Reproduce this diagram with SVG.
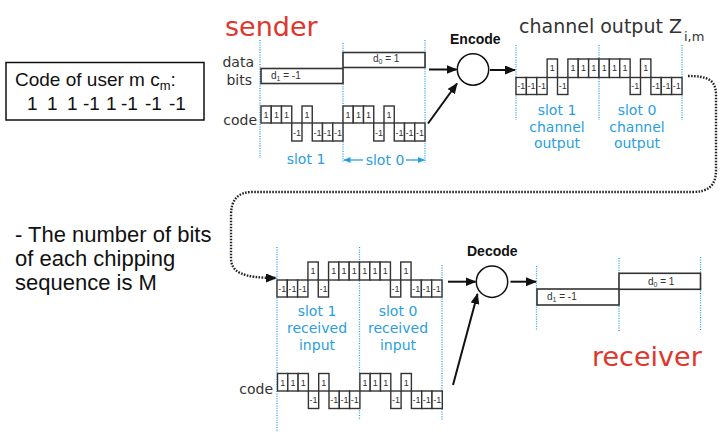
<svg xmlns="http://www.w3.org/2000/svg" width="721" height="439" viewBox="0 0 721 439">
<defs>
<style>
.bg{fill:#fff}
.chip{fill:#fff;stroke:#333;stroke-width:1.4}
.bar{fill:#fff;stroke:#333;stroke-width:1.6}
.cl{font-family:"Liberation Sans",Arial,sans-serif;font-size:9px;fill:#333;text-anchor:middle}
.dl{font-family:"Liberation Sans",Arial,sans-serif;font-size:10px;fill:#333}
.dot{stroke:#2a9ee0;stroke-width:1.3;stroke-dasharray:1 1.4;fill:none}
.blue{font-family:"DejaVu Sans",Verdana,sans-serif;font-size:14px;fill:#2a9ee0;text-anchor:middle}
.gray{font-family:"DejaVu Sans",Verdana,sans-serif;font-size:14px;fill:#333}
.title{font-family:"DejaVu Sans",Verdana,sans-serif;font-size:19px;fill:#333}
.sub{font-size:13px}
.big{font-family:"DejaVu Sans",Verdana,sans-serif;font-size:27px;fill:#e0352b}
.hand{font-family:"Liberation Sans",Arial,sans-serif;fill:#111}
.op{font-family:"Liberation Sans",Arial,sans-serif;font-size:14px;font-weight:bold;fill:#111}
.circ{fill:#fff;stroke:#111;stroke-width:1.5}
.arr{stroke:#111;stroke-width:2;fill:none;marker-end:url(#ah)}
.barr{stroke:#2a9ee0;stroke-width:1.3;fill:none;marker-end:url(#bh)}
.dash{stroke:#222;stroke-width:2.4;stroke-dasharray:1.6 1.4;fill:none;marker-end:url(#ah)}
</style>
<marker id="ah" markerUnits="userSpaceOnUse" markerWidth="11" markerHeight="9" refX="10" refY="4.5" orient="auto"><path d="M0,0 L11,4.5 L0,9 z" fill="#111"/></marker>
<marker id="bh" markerUnits="userSpaceOnUse" markerWidth="7" markerHeight="6" refX="6.5" refY="3" orient="auto"><path d="M0,0 L7,3 L0,6 z" fill="#2a9ee0"/></marker>
</defs>
<rect class="bg" x="0" y="0" width="721" height="439"/>

<g id="code-box">
<rect x="6" y="62.5" width="198" height="57.5" fill="#fff" stroke="#111" stroke-width="1.5"/>
<text class="hand" x="15" y="86" font-size="19">Code of user m c<tspan font-size="13" dy="4">m</tspan><tspan dy="-4">:</tspan></text>
<text class="hand" x="27" y="110" font-size="19">1 <tspan x="47">1 </tspan><tspan x="67">1 </tspan><tspan x="83">-1 </tspan><tspan x="106">1 </tspan><tspan x="121">-1 </tspan><tspan x="145">-1 </tspan><tspan x="169">-1</tspan></text>
</g>

<g id="note">
<text class="hand" font-size="22"><tspan x="15" y="242">- The number of bits</tspan><tspan x="15" y="266">of each chipping</tspan><tspan x="15" y="290">sequence is M</tspan></text>
</g>

<g id="sender-label"><text class="big" x="225" y="36">sender</text></g>

<g id="sender-guides">
<line class="dot" x1="260" y1="40" x2="260" y2="158"/>
<line class="dot" x1="343" y1="43" x2="343" y2="163"/>
<line class="dot" x1="425" y1="40" x2="425" y2="163"/>
<text class="blue" x="306" y="164">slot 1</text>
<text class="blue" x="385" y="165">slot 0</text>
</g>

<g id="data-bits">
<text class="gray" x="254" y="67" text-anchor="end">data</text>
<text class="gray" x="252" y="85" text-anchor="end">bits</text>
<rect class="bar" x="261" y="68.5" width="82" height="15"/>
<rect class="bar" x="343" y="52.5" width="82" height="15"/>
<text class="dl" x="271" y="79">d<tspan font-size="7" dy="2">1</tspan><tspan dy="-2"> = -1</tspan></text>
<text class="dl" x="373" y="62">d<tspan font-size="7" dy="2">0</tspan><tspan dy="-2"> = 1</tspan></text>
</g>

<g id="sender-code">
<text class="gray" x="257" y="125" text-anchor="end">code</text>
<rect class="chip" x="261" y="106" width="10.25" height="17"/><text class="cl" x="266.1" y="118">1</text>
<rect class="chip" x="271.25" y="106" width="10.25" height="17"/><text class="cl" x="276.4" y="118">1</text>
<rect class="chip" x="281.5" y="106" width="10.25" height="17"/><text class="cl" x="286.6" y="118">1</text>
<rect class="chip" x="291.75" y="123" width="10.25" height="18"/><text class="cl" x="296.9" y="136">-1</text>
<rect class="chip" x="302" y="106" width="10.25" height="17"/><text class="cl" x="307.1" y="118">1</text>
<rect class="chip" x="312.25" y="123" width="10.25" height="18"/><text class="cl" x="317.4" y="136">-1</text>
<rect class="chip" x="322.5" y="123" width="10.25" height="18"/><text class="cl" x="327.6" y="136">-1</text>
<rect class="chip" x="332.75" y="123" width="10.25" height="18"/><text class="cl" x="337.9" y="136">-1</text>
<rect class="chip" x="343" y="106" width="10.25" height="17"/><text class="cl" x="348.1" y="118">1</text>
<rect class="chip" x="353.25" y="106" width="10.25" height="17"/><text class="cl" x="358.4" y="118">1</text>
<rect class="chip" x="363.5" y="106" width="10.25" height="17"/><text class="cl" x="368.6" y="118">1</text>
<rect class="chip" x="373.75" y="123" width="10.25" height="18"/><text class="cl" x="378.9" y="136">-1</text>
<rect class="chip" x="384" y="106" width="10.25" height="17"/><text class="cl" x="389.1" y="118">1</text>
<rect class="chip" x="394.25" y="123" width="10.25" height="18"/><text class="cl" x="399.4" y="136">-1</text>
<rect class="chip" x="404.5" y="123" width="10.25" height="18"/><text class="cl" x="409.6" y="136">-1</text>
<rect class="chip" x="414.75" y="123" width="10.25" height="18"/><text class="cl" x="419.9" y="136">-1</text>
</g>

<g id="encode">
<text class="op" x="450" y="44">Encode</text>
<circle class="circ" cx="473" cy="69.5" r="15.7"/>
</g>

<g id="channel-output">
<text class="title" x="519" y="33">channel output Z<tspan class="sub" dx="2" dy="8">i,m</tspan></text>
<line class="dot" x1="516" y1="45" x2="516" y2="120"/>
<line class="dot" x1="599" y1="45" x2="599" y2="120"/>
<line class="dot" x1="682" y1="45" x2="682" y2="120"/>
<rect class="chip" x="516" y="77.5" width="10.38" height="17"/><text class="cl" x="521.19" y="89">-1</text>
<rect class="chip" x="526.38" y="77.5" width="10.38" height="17"/><text class="cl" x="531.56" y="89">-1</text>
<rect class="chip" x="536.75" y="77.5" width="10.38" height="17"/><text class="cl" x="541.94" y="89">-1</text>
<rect class="chip" x="547.13" y="59" width="10.38" height="18.5"/><text class="cl" x="552.31" y="71">1</text>
<rect class="chip" x="557.5" y="77.5" width="10.38" height="17"/><text class="cl" x="562.69" y="89">-1</text>
<rect class="chip" x="567.88" y="59" width="10.38" height="18.5"/><text class="cl" x="573.06" y="71">1</text>
<rect class="chip" x="578.25" y="59" width="10.38" height="18.5"/><text class="cl" x="583.44" y="71">1</text>
<rect class="chip" x="588.63" y="59" width="10.38" height="18.5"/><text class="cl" x="593.81" y="71">1</text>
<rect class="chip" x="599" y="59" width="10.38" height="18.5"/><text class="cl" x="604.19" y="71">1</text>
<rect class="chip" x="609.38" y="59" width="10.38" height="18.5"/><text class="cl" x="614.56" y="71">1</text>
<rect class="chip" x="619.75" y="59" width="10.38" height="18.5"/><text class="cl" x="624.94" y="71">1</text>
<rect class="chip" x="630.13" y="77.5" width="10.38" height="17"/><text class="cl" x="635.31" y="89">-1</text>
<rect class="chip" x="640.5" y="59" width="10.38" height="18.5"/><text class="cl" x="645.69" y="71">1</text>
<rect class="chip" x="650.88" y="77.5" width="10.38" height="17"/><text class="cl" x="656.06" y="89">-1</text>
<rect class="chip" x="661.25" y="77.5" width="10.38" height="17"/><text class="cl" x="666.44" y="89">-1</text>
<rect class="chip" x="671.63" y="77.5" width="10.38" height="17"/><text class="cl" x="676.81" y="89">-1</text>
<text class="blue"><tspan x="557" y="115">slot 1</tspan><tspan x="557" y="132">channel</tspan><tspan x="557" y="148">output</tspan></text>
<text class="blue"><tspan x="637" y="115">slot 0</tspan><tspan x="637" y="132">channel</tspan><tspan x="637" y="148">output</tspan></text>
</g>

<g id="received-input">
<line class="dot" x1="277" y1="247" x2="277" y2="432"/>
<line class="dot" x1="359.5" y1="247" x2="359.5" y2="420"/>
<line class="dot" x1="442" y1="265" x2="442" y2="420"/>
<rect class="chip" x="277" y="280" width="10.31" height="17"/><text class="cl" x="282.16" y="292">-1</text>
<rect class="chip" x="287.31" y="280" width="10.31" height="17"/><text class="cl" x="292.47" y="292">-1</text>
<rect class="chip" x="297.63" y="280" width="10.31" height="17"/><text class="cl" x="302.78" y="292">-1</text>
<rect class="chip" x="307.94" y="262" width="10.31" height="18"/><text class="cl" x="313.09" y="274">1</text>
<rect class="chip" x="318.25" y="280" width="10.31" height="17"/><text class="cl" x="323.41" y="292">-1</text>
<rect class="chip" x="328.56" y="262" width="10.31" height="18"/><text class="cl" x="333.72" y="274">1</text>
<rect class="chip" x="338.88" y="262" width="10.31" height="18"/><text class="cl" x="344.03" y="274">1</text>
<rect class="chip" x="349.19" y="262" width="10.31" height="18"/><text class="cl" x="354.34" y="274">1</text>
<rect class="chip" x="359.5" y="262" width="10.31" height="18"/><text class="cl" x="364.66" y="274">1</text>
<rect class="chip" x="369.81" y="262" width="10.31" height="18"/><text class="cl" x="374.97" y="274">1</text>
<rect class="chip" x="380.13" y="262" width="10.31" height="18"/><text class="cl" x="385.28" y="274">1</text>
<rect class="chip" x="390.44" y="280" width="10.31" height="17"/><text class="cl" x="395.59" y="292">-1</text>
<rect class="chip" x="400.75" y="262" width="10.31" height="18"/><text class="cl" x="405.91" y="274">1</text>
<rect class="chip" x="411.06" y="280" width="10.31" height="17"/><text class="cl" x="416.22" y="292">-1</text>
<rect class="chip" x="421.38" y="280" width="10.31" height="17"/><text class="cl" x="426.53" y="292">-1</text>
<rect class="chip" x="431.69" y="280" width="10.31" height="17"/><text class="cl" x="436.84" y="292">-1</text>
<text class="blue"><tspan x="317" y="316">slot 1</tspan><tspan x="317" y="333">received</tspan><tspan x="317" y="350">input</tspan></text>
<text class="blue"><tspan x="398" y="316">slot 0</tspan><tspan x="398" y="333">received</tspan><tspan x="398" y="350">input</tspan></text>
</g>

<g id="receiver-code">
<text class="gray" x="273" y="394" text-anchor="end">code</text>
<rect class="chip" x="277.5" y="373.5" width="10.3" height="17.5"/><text class="cl" x="282.65" y="385.5">1</text>
<rect class="chip" x="287.8" y="373.5" width="10.3" height="17.5"/><text class="cl" x="292.95" y="385.5">1</text>
<rect class="chip" x="298.1" y="373.5" width="10.3" height="17.5"/><text class="cl" x="303.25" y="385.5">1</text>
<rect class="chip" x="308.4" y="391" width="10.3" height="17.5"/><text class="cl" x="313.55" y="403">-1</text>
<rect class="chip" x="318.7" y="373.5" width="10.3" height="17.5"/><text class="cl" x="323.85" y="385.5">1</text>
<rect class="chip" x="329" y="391" width="10.3" height="17.5"/><text class="cl" x="334.15" y="403">-1</text>
<rect class="chip" x="339.3" y="391" width="10.3" height="17.5"/><text class="cl" x="344.45" y="403">-1</text>
<rect class="chip" x="349.6" y="391" width="10.3" height="17.5"/><text class="cl" x="354.75" y="403">-1</text>
<rect class="chip" x="359.9" y="373.5" width="10.3" height="17.5"/><text class="cl" x="365.05" y="385.5">1</text>
<rect class="chip" x="370.2" y="373.5" width="10.3" height="17.5"/><text class="cl" x="375.35" y="385.5">1</text>
<rect class="chip" x="380.5" y="373.5" width="10.3" height="17.5"/><text class="cl" x="385.65" y="385.5">1</text>
<rect class="chip" x="390.8" y="391" width="10.3" height="17.5"/><text class="cl" x="395.95" y="403">-1</text>
<rect class="chip" x="401.1" y="373.5" width="10.3" height="17.5"/><text class="cl" x="406.25" y="385.5">1</text>
<rect class="chip" x="411.4" y="391" width="10.3" height="17.5"/><text class="cl" x="416.55" y="403">-1</text>
<rect class="chip" x="421.7" y="391" width="10.3" height="17.5"/><text class="cl" x="426.85" y="403">-1</text>
<rect class="chip" x="432" y="391" width="10.3" height="17.5"/><text class="cl" x="437.15" y="403">-1</text>
</g>

<g id="decode">
<text class="op" x="467" y="256">Decode</text>
<circle class="circ" cx="492" cy="281.7" r="15.7"/>
</g>

<g id="decoded-output">
<line class="dot" x1="536.5" y1="266" x2="536.5" y2="330"/>
<line class="dot" x1="619" y1="258" x2="619" y2="332"/>
<line class="dot" x1="700.5" y1="257" x2="700.5" y2="330"/>
<rect class="bar" x="537" y="289" width="82" height="16"/>
<rect class="bar" x="619" y="273.3" width="81.5" height="16"/>
<text class="dl" x="547" y="300">d<tspan font-size="7" dy="2">1</tspan><tspan dy="-2"> = -1</tspan></text>
<text class="dl" x="648" y="284.5">d<tspan font-size="7" dy="2">0</tspan><tspan dy="-2"> = 1</tspan></text>
</g>

<g id="receiver-label"><text class="big" x="592" y="366">receiver</text></g>

<g id="connectors">
<line class="arr" x1="429" y1="69.5" x2="456.5" y2="69.5"/>
<line class="arr" x1="428" y1="123.5" x2="457" y2="83.5"/>
<line class="arr" x1="490" y1="70" x2="515" y2="70"/>
<line class="arr" x1="448" y1="281.7" x2="475.5" y2="281.7"/>
<line class="arr" x1="510.5" y1="281.7" x2="536" y2="281.7"/>
<line class="arr" x1="453" y1="385" x2="477.5" y2="294"/>
<line class="barr" x1="363" y1="160" x2="344" y2="160"/>
<line class="barr" x1="406" y1="160" x2="424.5" y2="160"/>
<path class="dash" d="M688 76 C708 76 716 80 716 95 L716 170 C716 186 708 192 692 192 L252 192 C238 192 231 200 231 215 L231 258 C231 272 242 278 276 278"/>
</g>
</svg>
